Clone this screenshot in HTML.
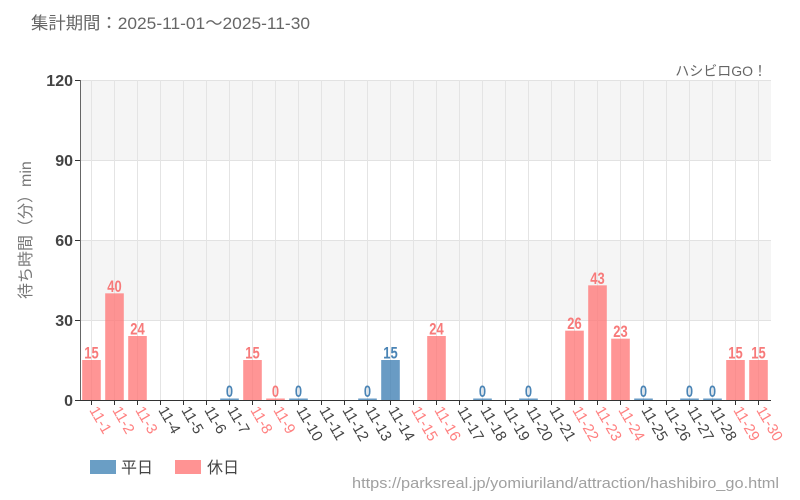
<!DOCTYPE html>
<html><head><meta charset="utf-8">
<style>
html,body{margin:0;padding:0;background:#fff;}
svg{display:block;}
text{font-family:"Liberation Sans","Noto Sans CJK JP",sans-serif;}
</style></head>
<body>
<svg width="800" height="500" viewBox="0 0 800 500" xmlns="http://www.w3.org/2000/svg">
<rect x="0" y="0" width="800" height="500" fill="#fff"/>
<text x="31" y="29" font-size="17" fill="#666" textLength="279" lengthAdjust="spacingAndGlyphs">集計期間：2025-11-01～2025-11-30</text>
<text x="767" y="76" font-size="14" fill="#666" text-anchor="end">ハシビロGO！</text>

<!-- bands -->
<rect x="80" y="80" width="691" height="80" fill="#f5f5f5"/>
<rect x="80" y="240" width="691" height="80" fill="#f5f5f5"/>
<!-- horizontal grid -->
<g stroke="#e2e2e2" stroke-width="1">
<line x1="80" y1="80.5" x2="771" y2="80.5"/>
<line x1="80" y1="160.5" x2="771" y2="160.5"/>
<line x1="80" y1="240.5" x2="771" y2="240.5"/>
<line x1="80" y1="320.5" x2="771" y2="320.5"/>
</g>
<!-- vertical grid -->
<g id="vg" stroke="#e4e4e4" stroke-width="1"></g>

<g id="bars"></g>
<g id="vlabels"></g>

<!-- axes -->
<line x1="80.5" y1="80" x2="80.5" y2="400" stroke="#666" stroke-width="1"/>
<line x1="80" y1="400.5" x2="771" y2="400.5" stroke="#333" stroke-width="1"/>
<g stroke="#333" stroke-width="1">
<line x1="75" y1="80.5" x2="80" y2="80.5"/>
<line x1="75" y1="160.5" x2="80" y2="160.5"/>
<line x1="75" y1="240.5" x2="80" y2="240.5"/>
<line x1="75" y1="320.5" x2="80" y2="320.5"/>
<line x1="75" y1="400.5" x2="80" y2="400.5"/>
</g>
<g id="xt" stroke="#333" stroke-width="1"></g>
<g font-size="16" fill="#444" font-weight="bold" text-anchor="end">
<text x="73" y="86">120</text>
<text x="73" y="166">90</text>
<text x="73" y="246">60</text>
<text x="73" y="326">30</text>
<text x="73" y="406">0</text>
</g>
<text transform="translate(31,299) rotate(-90)" font-size="16" fill="#777" text-anchor="start">待ち時間（分）min</text>

<g id="xl" font-size="15"></g>

<!-- legend -->
<rect x="90" y="460" width="26" height="14" fill="#6a9ec5"/>
<text x="121" y="473" font-size="16" fill="#444">平日</text>
<rect x="175" y="460" width="26" height="14" fill="#ff9393"/>
<text x="207" y="473" font-size="16" fill="#444">休日</text>

<text x="779" y="488" font-size="15" fill="#a0a0a0" text-anchor="end" textLength="427" lengthAdjust="spacingAndGlyphs">https://parksreal.jp/yomiuriland/attraction/hashibiro_go.html</text>

<script>
(function(){
var ns="http://www.w3.org/2000/svg";
var data={1:15,2:40,3:24,7:0,8:15,9:0,10:0,13:0,14:15,16:24,18:0,20:0,22:26,23:43,24:23,25:0,27:0,28:0,29:15,30:15};
var we={1:1,2:1,3:1,8:1,9:1,15:1,16:1,22:1,23:1,24:1,29:1,30:1};
var vg=document.getElementById('vg'),bars=document.getElementById('bars'),vl=document.getElementById('vlabels'),xt=document.getElementById('xt'),xl=document.getElementById('xl');
function el(t,a,p,txt){var e=document.createElementNS(ns,t);for(var k in a)e.setAttribute(k,a[k]);if(txt!==undefined)e.textContent=txt;p.appendChild(e);return e;}
for(var i=1;i<=30;i++){
 var cx=91.5+23*(i-1);
 el('line',{x1:cx,y1:80,x2:cx,y2:400},vg);
 el('line',{x1:cx,y1:400,x2:cx,y2:405},xt);
 var w=!!we[i];
 if(data[i]!==undefined){
  var v=data[i];
  var h=v*320/120; if(h<1.5)h=1.5;
  var col=w?'#ff7777':'#3f7fb3';
  el('rect',{x:cx-9.3,y:400-h,width:18.6,height:h,fill:col,'fill-opacity':0.78},bars);
  var s=String(v);
  el('text',{x:cx,y:400-h-1.5,'font-size':17,'font-weight':'bold',fill:w?'#f77a7a':'#4a84b5','text-anchor':'middle',textLength:s.length*7.2,lengthAdjust:'spacingAndGlyphs','font-family':'"Liberation Sans Narrow","Liberation Sans",sans-serif'},vl,s);
 }
 el('text',{transform:'translate('+(cx-2.5)+',410) rotate(60)',fill:w?'#ff8080':'#444'},xl,'11-'+i);
}
})();
</script>
</svg>
</body></html>
